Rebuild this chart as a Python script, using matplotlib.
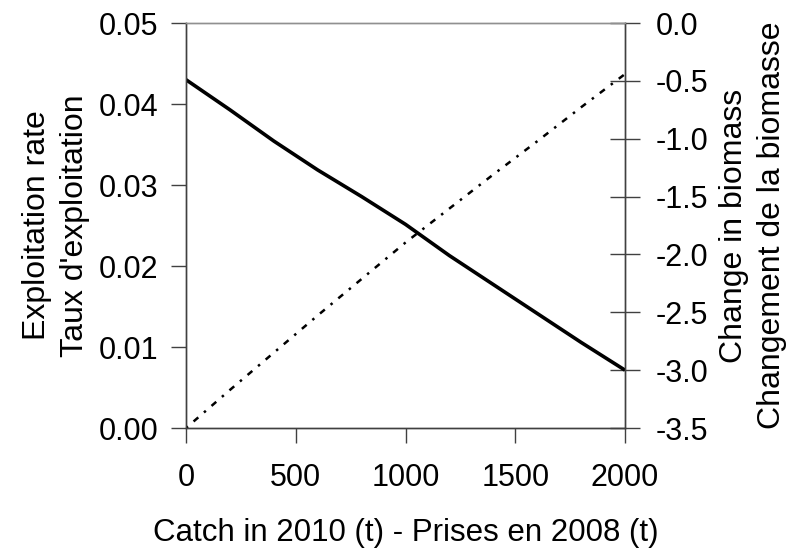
import numpy as np
import matplotlib
matplotlib.use("Agg")
import matplotlib.pyplot as plt

plt.rcParams['font.family'] = ['Liberation Sans', 'DejaVu Sans']

catch = [0, 200, 400, 600, 800, 1000, 1200, 1400, 1600, 1800, 2000]
exploitation = [0.0, 0.0047, 0.0093, 0.0139, 0.0184, 0.0229, 0.0271, 0.0313, 0.0354, 0.0396, 0.0437]
biomass_change = [-0.49, -0.75, -1.02, -1.27, -1.50, -1.74, -2.01, -2.26, -2.51, -2.76, -3.0]

fig = plt.figure(figsize=(7.97, 5.52), dpi=100)
ax = fig.add_axes([0.2334, 0.2246, 0.5508, 0.7337])
ax2 = ax.twinx()

ax.plot(catch, exploitation, color='black', lw=1.8, linestyle=(0, (1, 3, 2.5, 3)), zorder=3)
ax2.plot(catch, biomass_change, color='black', lw=2.6, solid_capstyle='butt')

ax.set_xlim(0, 2000)
ax.set_ylim(0, 0.05)
ax2.set_ylim(-3.5, 0)
ax.set_xticks([0, 500, 1000, 1500, 2000])
ax.set_yticks(np.arange(0, 0.051, 0.01))
ax.set_yticklabels(['0.00', '0.01', '0.02', '0.03', '0.04', '0.05'])
ax2.set_yticks(np.arange(-3.5, 0.01, 0.5))
ax2.set_yticklabels(['%.1f' % v for v in np.arange(-3.5, 0.01, 0.5)])

for a in (ax, ax2):
    for s in a.spines.values():
        s.set_color('#404040')
        s.set_linewidth(1.0)
    a.spines['top'].set_color('#909090')
    a.tick_params(labelsize=22, color='#404040', width=1.0)

ax.tick_params(axis='y', direction='out', length=11, pad=9)
ax.tick_params(axis='x', direction='out', length=11, pad=14)
ax2.tick_params(axis='y', direction='inout', length=22, pad=11)

ax.set_xlabel('Catch in 2010 (t) - Prises en 2008 (t)', fontsize=22.5, labelpad=18)
ax.set_ylabel("Exploitation rate\nTaux d'exploitation", fontsize=23, multialignment='center', labelpad=6, linespacing=1.35)
ax2.set_ylabel("Change in biomass\nChangement de la biomasse", fontsize=23, multialignment='center', rotation=90, labelpad=8, linespacing=1.35)

fig.savefig('out.png', dpi=100)
